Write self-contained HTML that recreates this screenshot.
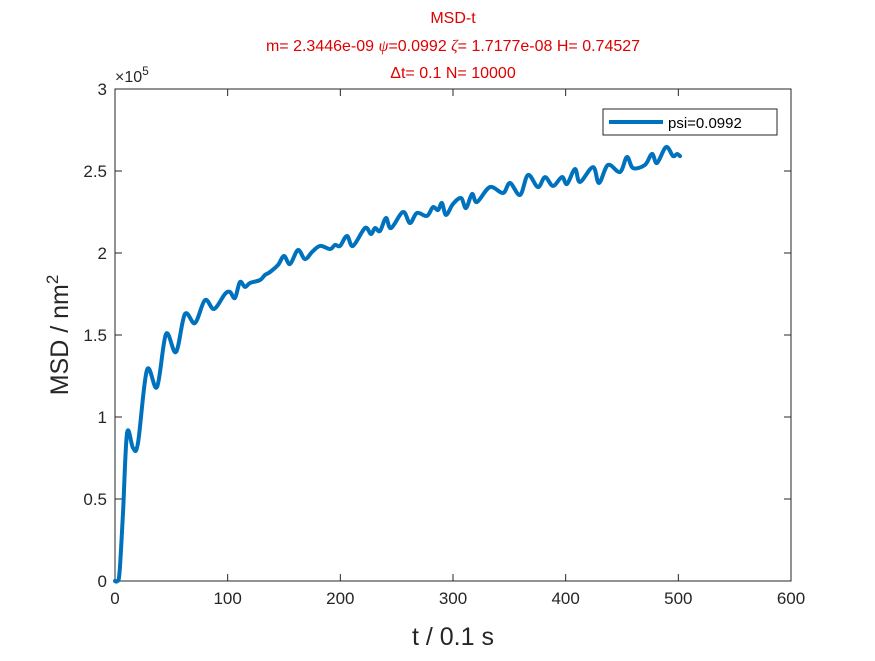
<!DOCTYPE html>
<html><head><meta charset="utf-8"><style>
body{margin:0;background:#fff;}
svg text{font-family:"Liberation Sans",sans-serif;}
</style></head><body>
<svg width="875" height="656">
<rect width="875" height="656" fill="#fff"/>
<g id="title" fill="#e00000" font-size="16" text-anchor="middle">
<text x="453" y="23">MSD-t</text>
<text x="453" y="51">m= 2.3446e-09 <tspan font-family="Liberation Serif" font-style="italic">ψ</tspan>=0.0992 <tspan font-family="Liberation Serif" font-style="italic">ζ</tspan>= 1.7177e-08 H= 0.74527</text>
<text x="453" y="78">Δt= 0.1 N= 10000</text>
</g>
<g id="axes"></g>
<path id="line" fill="none" stroke="#0072BD" stroke-width="4" stroke-linejoin="round" stroke-linecap="round"/>
<g>
<rect x="603" y="109" width="174" height="26" fill="#fff" stroke="#262626" stroke-width="1"/>
<line x1="609" y1="122" x2="663" y2="122" stroke="#0072BD" stroke-width="4"/>
<text x="668" y="128" font-size="15" fill="#000">psi=0.0992</text>
</g>
<text x="94" y="335" font-size="25" fill="#262626" text-anchor="middle" transform="rotate(-90 60 335)"></text>
<text transform="translate(68,335) rotate(-90)" font-size="25" fill="#262626" text-anchor="middle">MSD / nm<tspan font-size="17" dy="-10">2</tspan></text>
<text x="453" y="645" font-size="25" fill="#262626" text-anchor="middle">t / 0.1 s</text>
<text x="115" y="82" font-size="16" fill="#262626">×10<tspan font-size="12" dy="-7">5</tspan></text>
</svg>
<script>
const xTicks=[0,100,200,300,400,500,600];
const yTicks=[0,0.5,1,1.5,2,2.5,3];
const yTickLabels=["0","0.5","1","1.5","2","2.5","3"];
const tData=[0,1.8,4,7.1,10.7,16.0,20.4,28.4,37.3,45.3,54.1,62.1,71.0,79.9,87.9,97.6,102.1,106.5,110.9,115.4,119.8,128.7,133.1,137.6,144.7,150.0,155.3,162.4,168.6,174.9,182.0,190.9,195.3,199.7,205.9,211.2,221.9,227.2,230.8,235.2,240.5,245.0,255.6,261.8,268.0,276.9,282.2,286.7,290.2,293.8,300.0,307.1,311.5,316.9,321.3,332.8,344.4,350.6,359.5,366.6,375.4,381.7,388.8,396.7,401.2,408.3,412.7,424.3,429.6,437.6,448.2,454.4,459.8,470.4,476.6,481.1,489.1,495.3,498.8,501.5];
const msdData=[0,0.0,0.05,0.415,0.902,0.811,0.841,1.287,1.183,1.506,1.396,1.628,1.573,1.713,1.659,1.750,1.762,1.726,1.823,1.793,1.817,1.835,1.866,1.884,1.927,1.982,1.933,2.018,1.963,2.006,2.043,2.024,2.049,2.043,2.104,2.043,2.152,2.116,2.152,2.134,2.213,2.152,2.250,2.183,2.244,2.226,2.280,2.262,2.305,2.232,2.299,2.335,2.274,2.360,2.311,2.402,2.366,2.427,2.354,2.476,2.402,2.463,2.409,2.463,2.421,2.512,2.433,2.524,2.427,2.537,2.494,2.585,2.518,2.537,2.604,2.549,2.646,2.591,2.604,2.591];
const X0=115,X1=791,Y0=581,Y1=89;
const xs=v=>X0+(v-0)/600*(X1-X0);
const ys=v=>Y0-(v-0)/3*(Y0-Y1);
const NS="http://www.w3.org/2000/svg";
const ax=document.getElementById('axes');
function mk(tag,attrs){const e=document.createElementNS(NS,tag);for(const k in attrs)e.setAttribute(k,attrs[k]);ax.appendChild(e);return e;}
const box=mk('rect',{x:X0,y:Y1,width:X1-X0,height:Y0-Y1,fill:'none',stroke:'#262626','stroke-width':1});


xTicks.forEach(v=>{
 const l=mk('line',{x1:xs(v),x2:xs(v),y1:Y0,y2:Y0-7,stroke:'#262626'});
 
 
 mk('line',{x1:xs(v),x2:xs(v),y1:Y1,y2:Y1+7,stroke:'#262626'});
 const t=mk('text',{x:xs(v),y:Y0+23,'font-size':17,fill:'#262626','text-anchor':'middle'});
 t.textContent=v;
 
 
});
yTicks.forEach((v,i)=>{
 const l=mk('line',{x1:X0,x2:X0+7,y1:ys(v),y2:ys(v),stroke:'#262626'});
 
 
 mk('line',{x1:X1,x2:X1-7,y1:ys(v),y2:ys(v),stroke:'#262626'});
 const t=mk('text',{x:X0-8,y:ys(v)+6,'font-size':17,fill:'#262626','text-anchor':'end'});
 t.textContent=yTickLabels[i];
 
 
});
const P=tData.map((t,i)=>[xs(t),ys(msdData[i])]);
let d='M'+P[0][0]+','+P[0][1];
for(let i=0;i<P.length-1;i++){
 const p0=P[Math.max(i-1,0)],p1=P[i],p2=P[i+1],p3=P[Math.min(i+2,P.length-1)];
 const c1=[p1[0]+(p2[0]-p0[0])/6,p1[1]+(p2[1]-p0[1])/6];
 const c2=[p2[0]-(p3[0]-p1[0])/6,p2[1]-(p3[1]-p1[1])/6];
 d+=` C${c1[0]},${c1[1]} ${c2[0]},${c2[1]} ${p2[0]},${p2[1]}`;
}
document.getElementById('line').setAttribute('d',d);
</script>
</body></html>
